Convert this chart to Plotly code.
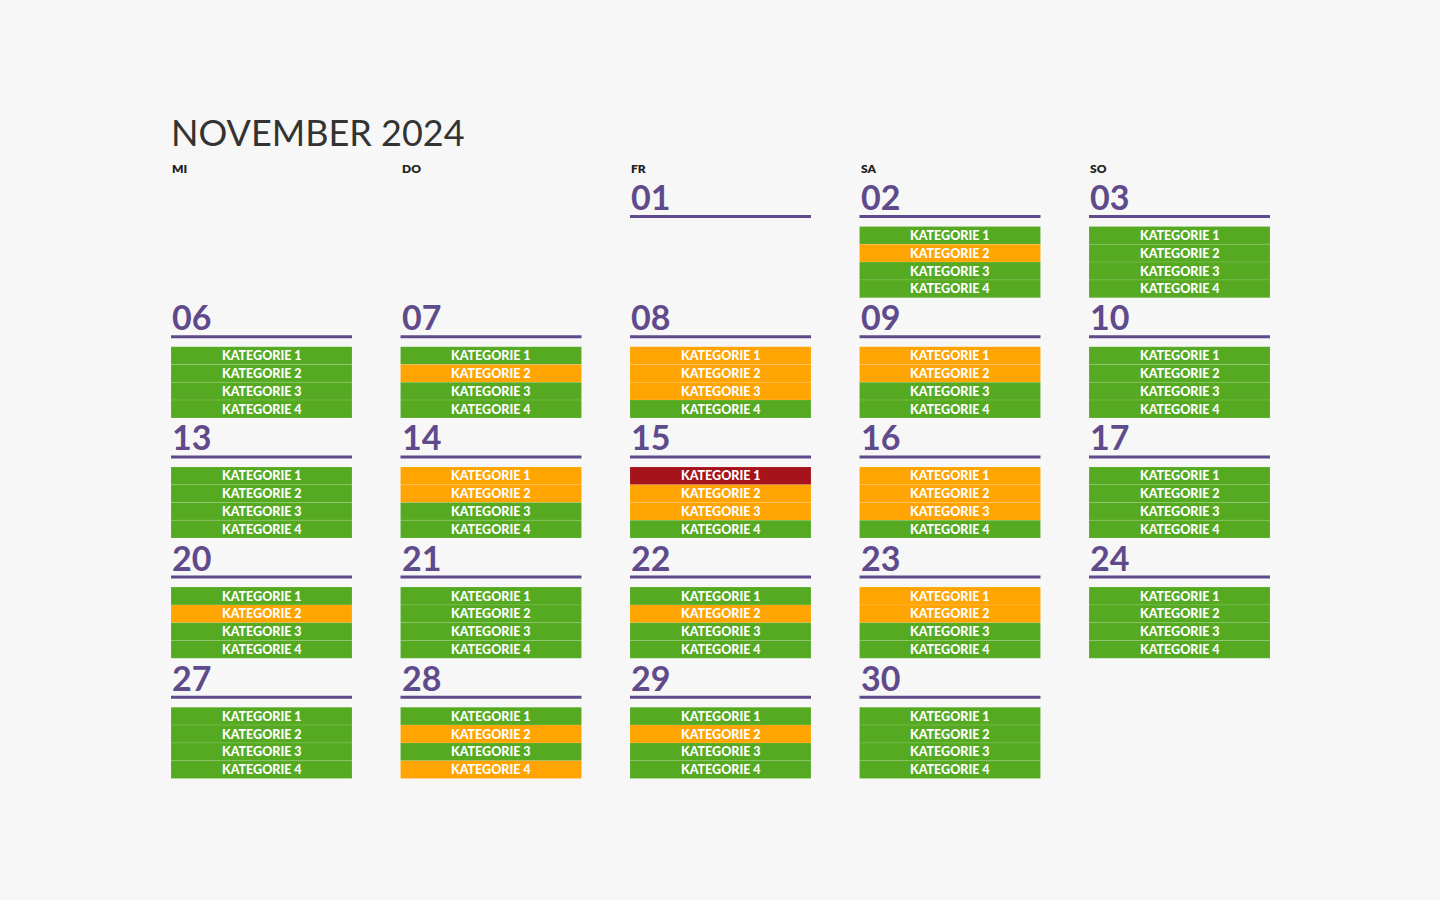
import datetime
import plotly.graph_objects as go

# ---------------- data ----------------
title_text = "NOVEMBER 2024"
weekday_labels = ["MI", "DO", "FR", "SA", "SO"]
categories = ["KATEGORIE 1", "KATEGORIE 2", "KATEGORIE 3", "KATEGORIE 4"]

days = [1, 2, 3, 6, 7, 8, 9, 10, 13, 14, 15, 16, 17,
        20, 21, 22, 23, 24, 27, 28, 29, 30]
# status per day for the 4 categories: G = green, O = orange, R = red, "" = none
status = {
    1: "",
    2: "GOGG", 3: "GGGG",
    6: "GGGG", 7: "GOGG", 8: "OOOG", 9: "OOGG", 10: "GGGG",
    13: "GGGG", 14: "OOGG", 15: "ROOG", 16: "OOOG", 17: "GGGG",
    20: "GOGG", 21: "GGGG", 22: "GOGG", 23: "OOGG", 24: "GGGG",
    27: "GGGG", 28: "GOGO", 29: "GOGG", 30: "GGGG",
}

# ---------------- style ----------------
colors = {"G": "#55AA22", "O": "#FFA400", "R": "#A6131B"}
purple = "#5F4A8B"
bg = "#F7F7F7"
font_family = "Lato, 'Open Sans', sans-serif"

x0 = 171.0          # left of first column
col_pitch = 229.5
col_w = 181.0
line_y0 = 216.5     # underline of first week row
row_pitch = 120.2
cell_gap = 10.0
cell_h = 17.8

fig = go.Figure()
shapes = []
annotations = []

annotations.append(dict(x=x0 - 2, y=132, text=title_text, showarrow=False,
                        xanchor="left", yanchor="middle",
                        font=dict(family=font_family, size=36, color="#333333")))
for i, lab in enumerate(weekday_labels):
    annotations.append(dict(x=x0 + i * col_pitch - 1, y=168.5, text=lab,
                            showarrow=False, xanchor="left", yanchor="middle",
                            font=dict(family=font_family, size=12, color="#222222",
                                      weight=800)))

for d in days:
    date = datetime.date(2024, 11, d)
    col = date.weekday() - 2
    row = (d + 1) // 7
    cx = x0 + col * col_pitch
    ly = line_y0 + row * row_pitch
    # day number
    annotations.append(dict(x=cx - 1, y=ly - 20, text=f"{d:02d}", showarrow=False,
                            xanchor="left", yanchor="middle",
                            font=dict(family=font_family, size=34, color=purple,
                                      weight=700)))
    # underline
    shapes.append(dict(type="line", xref="x", yref="y", x0=cx, x1=cx + col_w,
                       y0=ly, y1=ly, line=dict(color=purple, width=3)))
    # category cells
    for k, s in enumerate(status[d]):
        top = ly + cell_gap + k * cell_h
        shapes.append(dict(type="rect", xref="x", yref="y", x0=cx, x1=cx + col_w,
                           y0=top, y1=top + cell_h, fillcolor=colors[s],
                           line=dict(color="rgba(255,255,255,0.12)", width=1),
                           layer="below"))
        annotations.append(dict(x=cx + col_w / 2, y=top + cell_h / 2,
                                text=categories[k], showarrow=False,
                                xanchor="center", yanchor="middle",
                                font=dict(family=font_family, size=12.5, color="white",
                                          weight=900)))

fig.update_layout(
    width=1440, height=900,
    margin=dict(l=0, r=0, t=0, b=0),
    paper_bgcolor=bg, plot_bgcolor=bg,
    xaxis=dict(range=[0, 1440], visible=False, fixedrange=True),
    yaxis=dict(range=[900, 0], visible=False, fixedrange=True),
    shapes=shapes, annotations=annotations, showlegend=False,
)

fig.write_html("out.html", config={"displayModeBar": False},
               post_script="document.body.style.margin='0';document.body.style.background='#F7F7F7';")
